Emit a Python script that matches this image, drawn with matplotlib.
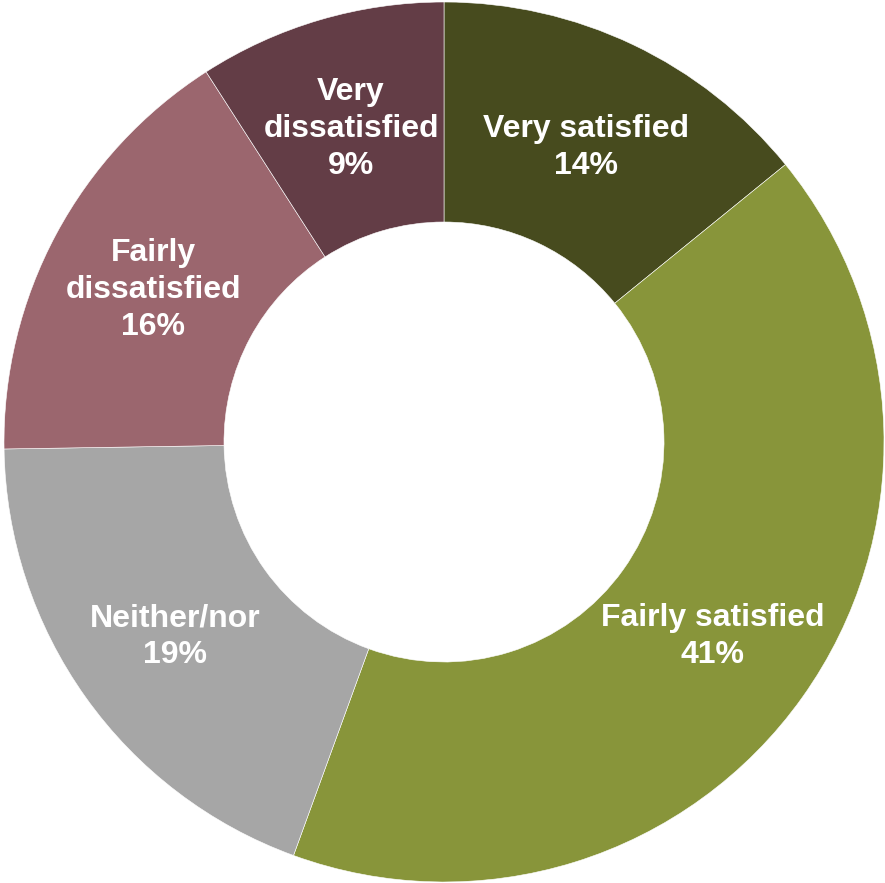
import matplotlib.pyplot as plt
import numpy as np

# satisfaction survey results (percent)
categories = ["Very satisfied", "Fairly satisfied", "Neither/nor",
              "Fairly\ndissatisfied", "Very\ndissatisfied"]
values = [14, 41, 19, 16, 9]
colors = ["#474B1E", "#88953A", "#A6A6A6", "#9B666E", "#633D46"]

fig = plt.figure(figsize=(8.85, 8.83), dpi=100)
ax = fig.add_axes([0, 0, 1, 1])

wedges, _ = ax.pie(values, colors=colors, startangle=90, counterclock=False,
                   radius=1.0,
                   wedgeprops=dict(width=0.5, edgecolor="white", linewidth=0.4))

# label each ring segment at its middle
for w, name, v in zip(wedges, categories, values):
    ang = np.deg2rad((w.theta1 + w.theta2) / 2)
    x, y = 0.75 * np.cos(ang), 0.75 * np.sin(ang) - 0.008
    ax.text(x, y, f"{name}\n{v}%", ha="center", va="center",
            color="white", fontsize=23, fontweight="bold",
            family="Liberation Sans", linespacing=1.3)

# center of ring sits at (444, 442) px, outer radius 440 px
ax.set_xlim(-444 / 440, (885 - 444) / 440)
ax.set_ylim(-(883 - 442) / 440, 442 / 440)
ax.set_aspect("auto")
ax.axis("off")

fig.savefig("out.png", dpi=100)
